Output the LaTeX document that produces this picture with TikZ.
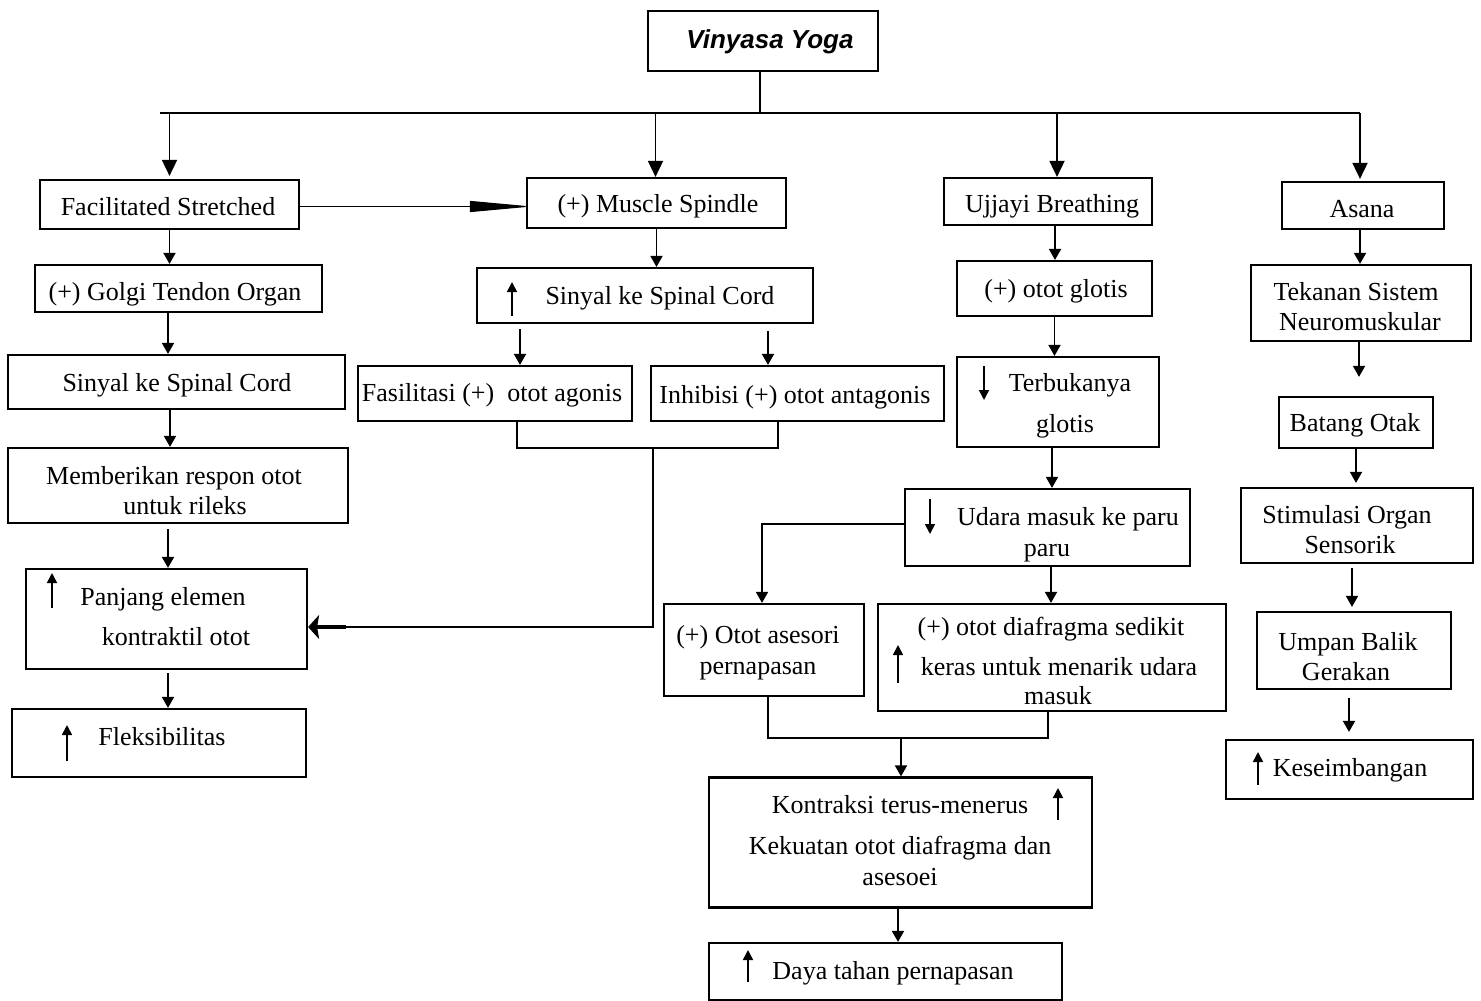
\documentclass[tikz,border=0pt]{standalone}
\usepackage{fontspec}
\setmainfont{Liberation Serif}
\newfontfamily\headfont{Liberation Sans}
\usetikzlibrary{arrows.meta,calc}
\begin{document}
\begin{tikzpicture}[x=1pt,y=-1pt,
  box/.style={draw, line width=2.2pt, inner sep=0pt},
  txt/.style={font=\fontsize{26}{30}\selectfont, anchor=mid, inner sep=0pt, yshift=-6pt},
  conn/.style={line width=1.8pt},
  arr/.style={line width=1.8pt, -{Triangle[length=11pt,width=12pt]}},
  busarr/.style={line width=1.8pt, -{Triangle[length=16pt,width=15pt]}},
  symarr/.style={line width=1.6pt, -{Triangle[length=10pt,width=10pt]}}]
\fill[white] (0,0) rectangle (1481,1001);
\useasboundingbox (0,0) rectangle (1481,1001);

% ---------- top ----------
\node[box, minimum width=230pt, minimum height=60pt] (vy) at (763,41) {};
\node[inner sep=0pt, anchor=mid, yshift=-6pt, font=\headfont\bfseries\itshape\fontsize{26}{30}\selectfont] (tvy) at (770,40) {Vinyasa Yoga};
\coordinate (bus) at (760,113);
\coordinate (busL) at (160,113);
\coordinate (busR) at (1360,113);
\draw[conn] (vy.south -| bus) -- (bus);
\draw[conn] (busL) -- (busR);

% ---------- left column ----------
\node[box, minimum width=259pt, minimum height=49pt] (fs) at (169.5,204.5) {};
\node[txt] (tfs) at (168,207) {Facilitated Stretched};
\node[box, minimum width=287pt, minimum height=47pt] (gto) at (178.5,288.5) {};
\node[txt] (tgto) at (175,292) {(+) Golgi Tendon Organ};
\node[box, minimum width=337pt, minimum height=54pt] (sl) at (176.5,382) {};
\node[txt] (tsl) at (177,383) {Sinyal ke Spinal Cord};
\node[box, minimum width=340pt, minimum height=75pt] (mr) at (178,485.5) {};
\node[txt] (tmr1) at (174,476) {Memberikan respon otot};
\node[txt] (tmr2) at (185,506) {untuk rileks};
\node[box, minimum width=281pt, minimum height=100pt] (pe) at (166.5,619) {};
\node[txt] (tpe1) at (163,597) {Panjang elemen};
\node[txt] (tpe2) at (176,637) {kontraktil otot};
\draw[symarr] (52,608) -- (52,573);
\node[box, minimum width=294pt, minimum height=68pt] (fl) at (159,743) {};
\node[txt] (tfl) at (162,737) {Fleksibilitas};
\draw[symarr] (67,761) -- (67,725);

% ---------- middle column ----------
\node[box, minimum width=259pt, minimum height=50pt] (ms) at (656.5,203) {};
\node[txt] (tms) at (658,204) {(+) Muscle Spindle};
\node[box, minimum width=336pt, minimum height=55pt] (ss) at (645,295.5) {};
\node[txt] (tss) at (660,296) {Sinyal ke Spinal Cord};
\draw[symarr] (512,316) -- (512,282);
\node[box, minimum width=274pt, minimum height=55pt] (fa) at (495,393.5) {};
\node[txt] (tfa) at (492,393) {Fasilitasi (+)\ \ otot agonis};
\node[box, minimum width=293pt, minimum height=55pt] (ih) at (797.5,393.5) {};
\node[txt] (tih) at (795,395) {Inhibisi (+) otot antagonis};

% ---------- Ujjayi column ----------
\node[box, minimum width=208pt, minimum height=47pt] (ub) at (1048,201.5) {};
\node[txt] (tub) at (1052,204) {Ujjayi Breathing};
\node[box, minimum width=195pt, minimum height=55pt] (og) at (1054.5,288.5) {};
\node[txt] (tog) at (1056,289) {(+) otot glotis};
\node[box, minimum width=202pt, minimum height=90pt] (tg) at (1058,402) {};
\node[txt] (ttg1) at (1070,383) {Terbukanya};
\node[txt] (ttg2) at (1065,424) {glotis};
\draw[symarr] (984,366) -- (984,400);
\node[box, minimum width=285pt, minimum height=77pt] (um) at (1047.5,527.5) {};
\node[txt] (tum1) at (1068,517) {Udara masuk ke paru};
\node[txt] (tum2) at (1047,548) {paru};
\draw[symarr] (930,499) -- (930,534);
\node[box, minimum width=200pt, minimum height=92pt] (oa) at (764,650) {};
\node[txt] (toa1) at (758,635) {(+) Otot asesori};
\node[txt] (toa2) at (758,666) {pernapasan};
\node[box, minimum width=348pt, minimum height=107pt] (od) at (1052,657.5) {};
\node[txt] (tod1) at (1051,627) {(+) otot diafragma sedikit};
\node[txt] (tod2) at (1059,667) {keras untuk menarik udara};
\node[txt] (tod3) at (1058,696) {masuk};
\draw[symarr] (898,683) -- (898,645);
\node[box, minimum width=383pt, minimum height=130pt] (kt) at (900.5,842.5) {};
\node[txt] (tkt1) at (900,805) {Kontraksi terus-menerus};
\node[txt] (tkt2) at (900,846) {Kekuatan otot diafragma dan};
\node[txt] (tkt3) at (900,877) {asesoei};
\draw[symarr] (1058,820) -- (1058,788);
\node[box, minimum width=353pt, minimum height=57pt] (dt) at (885.5,971.5) {};
\node[txt] (tdt) at (893,971) {Daya tahan pernapasan};
\draw[symarr] (748,982) -- (748,950);

% ---------- right column ----------
\node[box, minimum width=162pt, minimum height=47pt] (as) at (1363,205.5) {};
\node[txt] (tas) at (1362,209) {Asana};
\node[box, minimum width=220pt, minimum height=76pt] (ts) at (1361,303) {};
\node[txt] (tts1) at (1356,292) {Tekanan Sistem};
\node[txt] (tts2) at (1360,322) {Neuromuskular};
\node[box, minimum width=154pt, minimum height=51pt] (bo) at (1356,422.5) {};
\node[txt] (tbo) at (1355,423) {Batang Otak};
\node[box, minimum width=232pt, minimum height=75pt] (so) at (1357,525.5) {};
\node[txt] (tso1) at (1347,515) {Stimulasi Organ};
\node[txt] (tso2) at (1350,545) {Sensorik};
\node[box, minimum width=194pt, minimum height=77pt] (ubg) at (1354,650.5) {};
\node[txt] (tubg1) at (1348,642) {Umpan Balik};
\node[txt] (tubg2) at (1346,672) {Gerakan};
\node[box, minimum width=247pt, minimum height=59pt] (ks) at (1349.5,769.5) {};
\node[txt] (tks) at (1350,768) {Keseimbangan};
\draw[symarr] (1258,785) -- (1258,752);

% ---------- connectors ----------
% bus arrows
\draw[busarr, shorten >=3pt] (fs.north |- bus) -- (fs.north);
\draw[busarr] ([xshift=-1pt]ms.north |- bus) -- ([xshift=-1pt]ms.north);
\draw[busarr] ([xshift=9pt]ub.north |- bus) -- ([xshift=9pt]ub.north);
\draw[busarr, shorten >=2pt] ([xshift=-3pt]as.north |- bus) -- ([xshift=-3pt]as.north);

% facilitated -> muscle spindle
\draw[line width=1.1pt, shorten >=-6pt, -{Triangle[length=62pt,width=11pt]}] ([yshift=-2pt]fs.east) -- ([yshift=-2pt]fs.east -| ms.west);

% left column
\draw[arr] (fs.south) -- (fs.south |- gto.north);
\draw[arr] ([xshift=-10.5pt]gto.south) -- ([xshift=-10.5pt]gto.south |- sl.north);
\draw[arr] ([xshift=-6.5pt]sl.south) -- ([xshift=-6.5pt]sl.south |- mr.north);
\draw[arr, shorten <=5pt] ([xshift=-10pt]mr.south) -- ([xshift=-10pt]mr.south |- pe.north);
\draw[arr, shorten <=3pt] ([xshift=1.5pt]pe.south) -- ([xshift=1.5pt]pe.south |- fl.north);

% middle column
\draw[arr] (ms.south) -- (ms.south |- ss.north);
\draw[arr, shorten <=5pt] ([xshift=-125pt]ss.south) -- ([xshift=-125pt]ss.south |- fa.north);
\draw[arr, shorten <=7pt] ([xshift=123pt]ss.south) -- ([xshift=123pt]ss.south |- ih.north);
\coordinate (fab) at ([xshift=22pt]fa.south);
\coordinate (ihb) at ([xshift=-19.5pt]ih.south);
\coordinate (brk) at (653,448);
\draw[conn] (fab) |- (brk) -| (ihb);
\coordinate (pein) at ([yshift=-8pt]pe.east);
\coordinate (thick) at ($(pein)+(38,0)$);
\draw[conn] (brk) |- (thick);
\draw[line width=3.2pt, -{Stealth[length=11pt,width=24pt,inset=2pt]}] (thick) -- (pein);

% Ujjayi column
\draw[arr] ([xshift=7pt]ub.south) -- ([xshift=7pt]ub.south |- og.north);
\draw[arr] (og.south) -- (og.south |- tg.north);
\draw[arr] ([xshift=-6pt]tg.south) -- ([xshift=-6pt]tg.south |- um.north);
\draw[arr] ([xshift=3.5pt]um.south) -- ([xshift=3.5pt]um.south |- od.north);
\coordinate (umw) at ([yshift=3.5pt]um.west);
\coordinate (oan) at ([xshift=-2pt]oa.north);
\draw[arr] (umw) -| (oan);
\coordinate (oab) at ([xshift=4pt]oa.south);
\coordinate (odb) at ([xshift=-4pt]od.south);
\coordinate (jn) at (901,738);
\draw[conn] (oab) |- (jn) -| (odb);
\draw[arr] (jn) -- (jn |- kt.north);
\draw[arr] ([xshift=-2.5pt]kt.south) -- ([xshift=-2.5pt]kt.south |- dt.north);

% right column
\draw[arr] ([xshift=-3pt]as.south) -- ([xshift=-3pt]as.south |- ts.north);
\draw[arr, shorten >=19pt] ([xshift=-2pt]ts.south) -- ([xshift=-2pt]ts.south |- bo.north);
\draw[arr, shorten >=4pt] (bo.south) -- (bo.south |- so.north);
\draw[arr, shorten <=4pt, shorten >=4pt] ([xshift=-5pt]so.south) -- ([xshift=-5pt]so.south |- ubg.north);
\draw[arr, shorten <=8pt, shorten >=7pt] ([xshift=-5pt]ubg.south) -- ([xshift=-5pt]ubg.south |- ks.north);
\end{tikzpicture}
\end{document}
